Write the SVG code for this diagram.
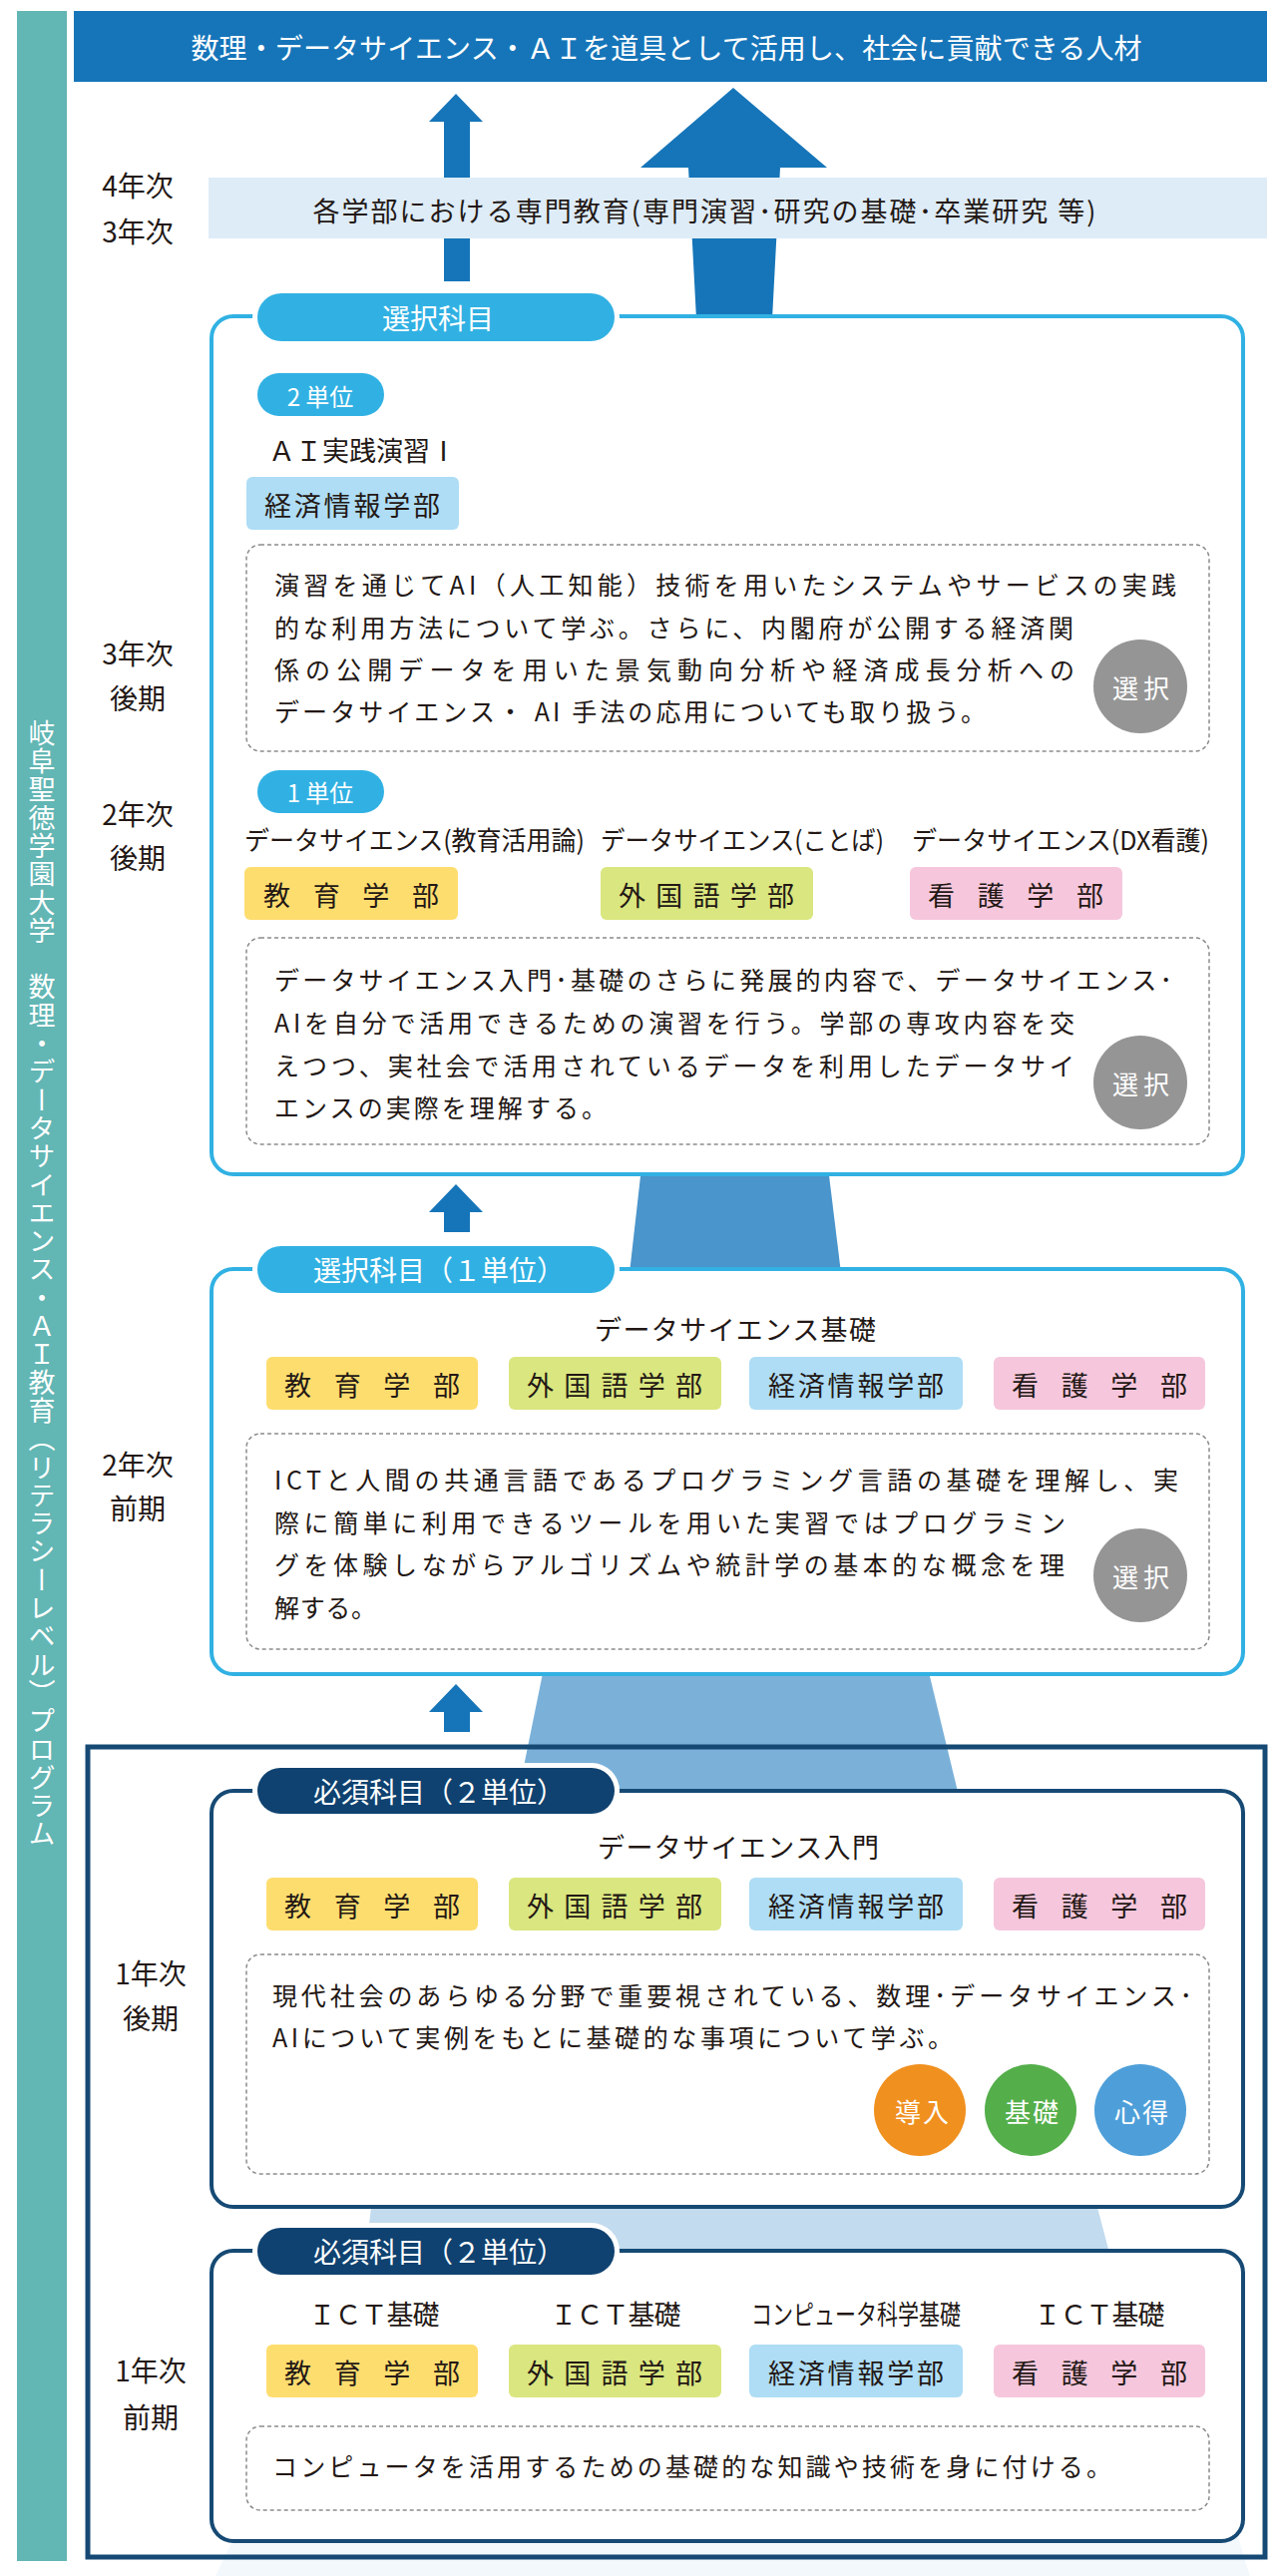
<svg xmlns="http://www.w3.org/2000/svg" width="1280" height="2582" viewBox="0 0 1280 2582">
<style>
text{font-family:"Noto Sans CJK JP","Noto Sans",sans-serif;fill:#231815;dominant-baseline:central}
.w{fill:#fff}
.yr{font-size:28px;text-anchor:middle}
.desc{font-size:25px}
.tag{font-size:27px;text-anchor:middle}
.ttl{font-size:27px;text-anchor:middle}
.box{fill:#fff;stroke:#31B1E3;stroke-width:4}
.boxN{fill:#fff;stroke:#164A74;stroke-width:4}
.dash{fill:#fff;stroke:#8c8c8c;stroke-width:1.5;stroke-dasharray:4 3}
.tabL{fill:#31B1E3}
.tabN{fill:#0F4270}
.tabT{font-size:28px;text-anchor:middle;fill:#fff}
.y{fill:#FEDD6F}.g{fill:#DAE67F}.b{fill:#AEDDF5}.p{fill:#F6C7DC}
.arr{fill:#1675B9}
.circT{font-size:26px;text-anchor:middle;fill:#fff;letter-spacing:5px}
</style>

<g id="sidebar">
<rect x="17" y="11" width="50" height="2556" fill="#62B6B4"/>
<text x="42" y="721" class="w" style="writing-mode:vertical-rl;font-size:27px;letter-spacing:1.3px;dominant-baseline:central">岐阜聖徳学園大学　数理・データサイエンス・ＡＩ教育（リテラシーレベル）プログラム</text>
</g>

<g id="banner">
<rect x="74" y="11" width="1196" height="71" fill="#1675B9"/>
<text x="668" y="47" class="w" font-size="28" text-anchor="middle" textLength="953">数理・データサイエンス・ＡＩを道具として活用し、社会に貢献できる人材</text>
</g>

<g id="connectors">
<polygon class="arr" points="457,94 484,122 471,122 471,282 445,282 445,122 430,122"/>
<polygon class="arr" points="735,88 829,168 782,168 774,320 698,320 690,168 642,168"/>
<polygon class="arr" points="457,1187 484,1215 471,1215 471,1235 445,1235 445,1215 430,1215"/>
<polygon class="arr" points="457,1688 484,1716 471,1716 471,1736 445,1736 445,1716 430,1716"/>
<polygon fill="#4A95CB" points="643,1170 830,1170 843,1276 631,1276"/>
<polygon fill="#7BB1D9" points="545,1672 930,1672 961,1800 519,1800"/>
<polygon fill="#C2DBEE" points="373,2205 1098,2205 1113,2262 366,2262"/>
<polygon fill="#F3F8FC" points="236,2540 1240,2540 1253,2582 216,2582"/>
</g>

<g id="frame">
<rect x="88" y="1751" width="1180" height="812" fill="none" stroke="#164A74" stroke-width="5"/>
</g>

<g id="band-senmon">
<rect x="209" y="178" width="1061" height="61" fill="#DEECF8"/>
<text x="706" y="210" font-size="27" text-anchor="middle" textLength="785">各学部における専門教育(専門演習･研究の基礎･卒業研究 等)</text>
<text x="138" y="185" class="yr">4年次</text>
<text x="138" y="231" class="yr">3年次</text>
</g>

<g id="box-sentaku">
<rect class="box" x="212" y="317" width="1034" height="860" rx="22"/>
<rect x="253" y="289" width="368" height="58" rx="29" fill="#fff"/>
<rect class="tabL" x="258" y="294" width="358" height="48" rx="24"/>
<text class="tabT" x="439" y="318">選択科目</text>
<text x="138" y="654" class="yr">3年次</text>
<text x="138" y="699" class="yr">後期</text>
<text x="138" y="815" class="yr">2年次</text>
<text x="138" y="859" class="yr">後期</text>
</g>

<g id="ai-jissen">
<rect class="tabL" x="258" y="374" width="127" height="43" rx="21.5"/>
<text x="321" y="396" class="w" font-size="24" text-anchor="middle">2 単位</text>
<text x="269" y="450" font-size="27">ＡＩ実践演習Ⅰ</text>
<rect class="b" x="247" y="478" width="213" height="53" rx="6"/>
<text class="tag" x="353" y="505" textLength="176">経済情報学部</text>
<rect class="dash" x="247" y="546" width="965" height="207" rx="14"/>
<text class="desc" x="275" y="585" textLength="904">演習を通じてAI（人工知能）技術を用いたシステムやサービスの実践</text>
<text class="desc" x="275" y="628" textLength="801">的な利用方法について学ぶ。さらに、内閣府が公開する経済関</text>
<text class="desc" x="275" y="670" textLength="802">係の公開データを用いた景気動向分析や経済成長分析への</text>
<text class="desc" x="275" y="712" textLength="713">データサイエンス・ AI 手法の応用についても取り扱う。</text>
<circle cx="1143" cy="688" r="47" fill="#959595"/>
<text class="circT" x="1146" y="688">選択</text>
</g>

<g id="ds-senmon">
<rect class="tabL" x="258" y="772" width="127" height="43" rx="21.5"/>
<text x="321" y="793" class="w" font-size="24" text-anchor="middle">1 単位</text>
<text x="245" y="840" font-size="26" textLength="341" lengthAdjust="spacingAndGlyphs">データサイエンス(教育活用論)</text>
<text x="602" y="840" font-size="26" textLength="284" lengthAdjust="spacingAndGlyphs">データサイエンス(ことば)</text>
<text x="914" y="840" font-size="26" textLength="298" lengthAdjust="spacingAndGlyphs">データサイエンス(DX看護)</text>
<rect class="y" x="245" y="869" width="214" height="53" rx="6"/>
<text class="tag" x="352" y="896" textLength="176">教育学部</text>
<rect class="g" x="602" y="869" width="213" height="53" rx="6"/>
<text class="tag" x="708" y="896" textLength="176">外国語学部</text>
<rect class="p" x="912" y="869" width="213" height="53" rx="6"/>
<text class="tag" x="1018" y="896" textLength="176">看護学部</text>
<rect class="dash" x="247" y="940" width="965" height="207" rx="14"/>
<text class="desc" x="275" y="981" textLength="900">データサイエンス入門･基礎のさらに発展的内容で、データサイエンス･</text>
<text class="desc" x="275" y="1024" textLength="802">AIを自分で活用できるための演習を行う。学部の専攻内容を交</text>
<text class="desc" x="275" y="1067" textLength="802">えつつ、実社会で活用されているデータを利用したデータサイ</text>
<text class="desc" x="275" y="1109" textLength="333">エンスの実際を理解する。</text>
<circle cx="1143" cy="1085" r="47" fill="#959595"/>
<text class="circT" x="1146" y="1085">選択</text>
</g>

<g id="ds-kiso">
<rect class="box" x="212" y="1272" width="1034" height="406" rx="22"/>
<rect x="253" y="1244" width="368" height="57" rx="28.5" fill="#fff"/>
<rect class="tabL" x="258" y="1249" width="358" height="47" rx="23.5"/>
<text class="tabT" x="440" y="1272">選択科目（１単位）</text>
<text class="ttl" x="737" y="1331" textLength="282">データサイエンス基礎</text>
<rect class="y" x="267" y="1360" width="212" height="53" rx="6"/>
<text class="tag" x="373" y="1387" textLength="176">教育学部</text>
<rect class="g" x="510" y="1360" width="213" height="53" rx="6"/>
<text class="tag" x="616" y="1387" textLength="176">外国語学部</text>
<rect class="b" x="751" y="1360" width="214" height="53" rx="6"/>
<text class="tag" x="858" y="1387" textLength="176">経済情報学部</text>
<rect class="p" x="996" y="1360" width="212" height="53" rx="6"/>
<text class="tag" x="1102" y="1387" textLength="176">看護学部</text>
<rect class="dash" x="247" y="1437" width="965" height="216" rx="14"/>
<text class="desc" x="275" y="1482" textLength="906">ICTと人間の共通言語であるプログラミング言語の基礎を理解し、実</text>
<text class="desc" x="275" y="1525" textLength="793">際に簡単に利用できるツールを用いた実習ではプログラミン</text>
<text class="desc" x="275" y="1567" textLength="792">グを体験しながらアルゴリズムや統計学の基本的な概念を理</text>
<text class="desc" x="275" y="1610" textLength="102">解する。</text>
<circle cx="1143" cy="1579" r="47" fill="#959595"/>
<text class="circT" x="1146" y="1579">選択</text>
<text x="138" y="1467" class="yr">2年次</text>
<text x="138" y="1511" class="yr">前期</text>
</g>

<g id="ds-nyumon">
<rect class="boxN" x="212" y="1795" width="1034" height="417" rx="22"/>
<rect x="253" y="1767" width="368" height="56" rx="28" fill="#fff"/>
<rect class="tabN" x="258" y="1772" width="358" height="46" rx="23"/>
<text class="tabT" x="440" y="1795">必須科目（２単位）</text>
<text class="ttl" x="740" y="1850" textLength="282">データサイエンス入門</text>
<rect class="y" x="267" y="1882" width="212" height="53" rx="6"/>
<text class="tag" x="373" y="1909" textLength="176">教育学部</text>
<rect class="g" x="510" y="1882" width="213" height="53" rx="6"/>
<text class="tag" x="616" y="1909" textLength="176">外国語学部</text>
<rect class="b" x="751" y="1882" width="214" height="53" rx="6"/>
<text class="tag" x="858" y="1909" textLength="176">経済情報学部</text>
<rect class="p" x="996" y="1882" width="212" height="53" rx="6"/>
<text class="tag" x="1102" y="1909" textLength="176">看護学部</text>
<rect class="dash" x="247" y="1959" width="965" height="220" rx="14"/>
<text class="desc" x="273" y="1999" textLength="922">現代社会のあらゆる分野で重要視されている、数理･データサイエンス･</text>
<text class="desc" x="273" y="2041" textLength="682">AIについて実例をもとに基礎的な事項について学ぶ。</text>
<circle cx="922" cy="2115" r="46" fill="#F0901F"/>
<text class="circT" x="925" y="2115" style="letter-spacing:2px">導入</text>
<circle cx="1033" cy="2115" r="46" fill="#54AE4A"/>
<text class="circT" x="1035" y="2115" style="letter-spacing:2px">基礎</text>
<circle cx="1143" cy="2115" r="46" fill="#4E9FD9"/>
<text class="circT" x="1145" y="2115" style="letter-spacing:2px">心得</text>
<text x="151" y="1977" class="yr">1年次</text>
<text x="151" y="2022" class="yr">後期</text>
</g>

<g id="ict-kiso">
<rect class="boxN" x="212" y="2256" width="1034" height="291" rx="22"/>
<rect x="253" y="2228" width="368" height="57" rx="28.5" fill="#fff"/>
<rect class="tabN" x="258" y="2233" width="358" height="47" rx="23.5"/>
<text class="tabT" x="440" y="2256">必須科目（２単位）</text>
<text class="ttl" x="375" y="2318" font-size="26" textLength="131">ＩＣＴ基礎</text>
<text class="ttl" x="617" y="2318" font-size="26" textLength="131">ＩＣＴ基礎</text>
<text class="ttl" x="858" y="2318" font-size="26" textLength="210" lengthAdjust="spacingAndGlyphs">コンピュータ科学基礎</text>
<text class="ttl" x="1102" y="2318" font-size="26" textLength="131">ＩＣＴ基礎</text>
<rect class="y" x="267" y="2350" width="212" height="53" rx="6"/>
<text class="tag" x="373" y="2377" textLength="176">教育学部</text>
<rect class="g" x="510" y="2350" width="213" height="53" rx="6"/>
<text class="tag" x="616" y="2377" textLength="176">外国語学部</text>
<rect class="b" x="751" y="2350" width="214" height="53" rx="6"/>
<text class="tag" x="858" y="2377" textLength="176">経済情報学部</text>
<rect class="p" x="996" y="2350" width="212" height="53" rx="6"/>
<text class="tag" x="1102" y="2377" textLength="176">看護学部</text>
<rect class="dash" x="247" y="2432" width="965" height="84" rx="14"/>
<text class="desc" x="273" y="2471" textLength="841">コンピュータを活用するための基礎的な知識や技術を身に付ける。</text>
<text x="151" y="2375" class="yr">1年次</text>
<text x="151" y="2422" class="yr">前期</text>
</g>
</svg>
